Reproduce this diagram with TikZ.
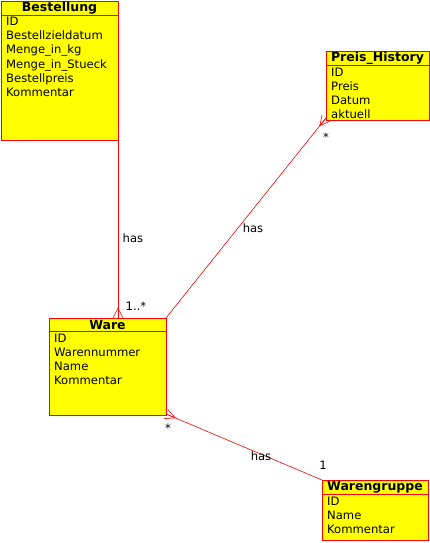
\documentclass[tikz,border=0pt]{standalone}
\usepackage{fontspec}
\setmainfont{DejaVu Sans}
\usetikzlibrary{calc}
\definecolor{clsyellow}{RGB}{255,255,0}
\definecolor{clsred}{RGB}{255,0,0}
\tikzset{
  cls/.style={draw=clsred, fill=clsyellow, line width=0.8pt, inner sep=0pt, anchor=north west},
  sep/.style={draw=clsred, line width=0.8pt},
  ttl/.style={font=\fontsize{12.5}{14}\selectfont\bfseries, inner sep=0pt, anchor=center},
  attr/.style={font=\fontsize{11.6}{14}\selectfont, inner sep=0pt, anchor=base west},
  conn/.style={draw=clsred, line width=0.6pt},
  lbl/.style={font=\fontsize{11.6}{14}\selectfont, inner sep=0pt}
}
\newcommand{\crowfoot}[2]{%
  \draw[conn] ($(#1)!10pt!(#2)$) -- (#1);
  \draw[conn] ($(#1)!10pt!(#2)$) -- ($(#1)!5pt!90:(#2)$);
  \draw[conn] ($(#1)!10pt!(#2)$) -- ($(#1)!5pt!-90:(#2)$);
}
\begin{document}
\begin{tikzpicture}[x=1pt,y=-1pt]
\useasboundingbox (0,0) rectangle (430,543);
% Bestellung
\node[cls, minimum width=117pt, minimum height=139pt] (best) at (1,1) {};
\draw[sep] (1,15) -- (118,15);
\node[ttl] (bestT) at (59.5,8.5) {Bestellung};
\foreach \t [count=\i from 0] in {ID,Bestellzieldatum,Menge\_in\_kg,Menge\_in\_Stueck,Bestellpreis,Kommentar}
  \node[attr] (bestA\i) at (6,26+14*\i) {\t};
% Preis_History
\node[cls, minimum width=103pt, minimum height=69pt] (ph) at (326,51) {};
\draw[sep] (326,65) -- (429,65);
\node[ttl] (phT) at (377.5,58.5) {Preis\_History};
\foreach \t [count=\i from 0] in {ID,Preis,Datum,aktuell}
  \node[attr] (phA\i) at (331,76+14*\i) {\t};
% Ware
\node[cls, minimum width=117pt, minimum height=97pt] (ware) at (49,318) {};
\draw[sep] (49,331) -- (166,331);
\node[ttl] (wareT) at (107.5,325) {Ware};
\foreach \t [count=\i from 0] in {ID,Warennummer,Name,Kommentar}
  \node[attr] (wareA\i) at (54,342+14*\i) {\t};
% Warengruppe
\node[cls, minimum width=106pt, minimum height=60pt] (wg) at (322,480) {};
\draw[sep] (322,494) -- (428,494);
\node[ttl] (wgT) at (375,487.5) {Warengruppe};
\foreach \t [count=\i from 0] in {ID,Name,Kommentar}
  \node[attr] (wgA\i) at (327,505+14*\i) {\t};
% connectors
\coordinate (c1a) at (118,140);
\coordinate (c1b) at (118,318);
\draw[conn] (c1a) -- (c1b);
\crowfoot{c1b}{c1a}
\node[lbl] (l1) at (133,238) {has};
\node[lbl] (m1) at (136,306) {1..*};

\coordinate (c2a) at (166,318);
\coordinate (c2b) at (326,118);
\draw[conn] (c2a) -- (c2b);
\crowfoot{c2b}{c2a}
\node[lbl] (l2) at (253,228) {has};
\node[lbl] (m2) at (326,137) {*};

\coordinate (c3a) at (166,414);
\coordinate (c3b) at (322,480);
\draw[conn] (c3a) -- (c3b);
\crowfoot{c3a}{c3b}
\node[lbl] (l3) at (261,456) {has};
\node[lbl] (m3) at (168,428) {*};
\node[lbl] (m4) at (323,465) {1};
\end{tikzpicture}
\end{document}
